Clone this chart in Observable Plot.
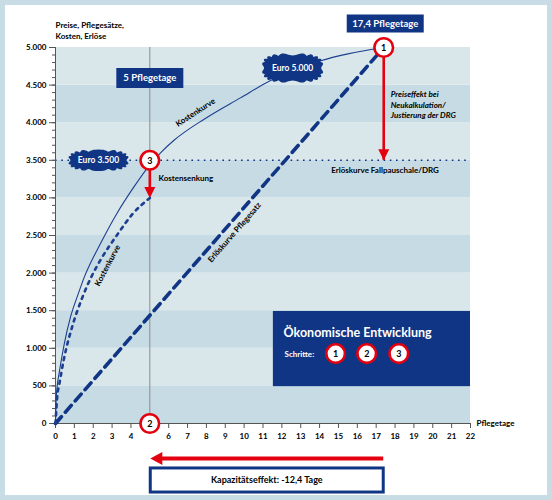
<!DOCTYPE html>
<html><head><meta charset="utf-8">
<script src="https://cdn.jsdelivr.net/npm/d3@7"></script>
<script src="https://cdn.jsdelivr.net/npm/@observablehq/plot@0.6"></script>
<style>
html,body{margin:0;padding:0;background:#fff;}
#chart svg{display:block;box-shadow:inset 0 0 0 5px #c8dce6;}
</style></head><body><div id="chart"></div>
<script>
// ---- data ----
const kostenTage  = [0, 0.03, 0.1, 0.2, 0.45, 0.8, 1.2, 1.5, 2.4, 3.27, 4.14, 5, 5.57, 6.3, 7.9, 9.8, 11.4, 12.6, 14, 15.5, 17.4];
const kostenWerte = [0, 300, 520, 680, 1040, 1420, 1720, 1930, 2400, 2800, 3140, 3440, 3600, 3770, 4050, 4330, 4560, 4700, 4820, 4915, 5000];
const senkungTage  = [0, 0.1, 0.2, 0.44, 0.9, 1.43, 1.9, 2.4, 3.3, 4.1, 5];
const senkungWerte = [0, 380, 520, 850, 1300, 1680, 1950, 2180, 2520, 2790, 3000];
const pflegesatzTage  = [0, 17.4];
const pflegesatzWerte = [0, 5000];
const drgPreis = 3500;
const tageVorher = 17.4, tageNachher = 5;
const kostenVorher = 5000, kostenNachher = 3000;
const yTicks = d3.range(0, 5001, 500);
const yMinor = d3.range(0, 5001, 100);
const xTicks = d3.range(0, 23);
const bandStarts = d3.range(0, 5000, 500);
const schritte = ["1", "2", "3"];

// ---- styles ----
const NAVY = "#103584", BLUE = "#1d3f8f", RED = "#e3000f";
const DARK = "#c6dbe4", LIGHT = "#d9e6ea";
const deNum = d => d3.format(",")(d).replace(/,/g, ".");

const kosten = kostenTage.map((x, i) => ({x, y: kostenWerte[i]}));
const senkung = senkungTage.map((x, i) => ({x, y: senkungWerte[i]}));
const pflegesatz = pflegesatzTage.map((x, i) => ({x, y: pflegesatzWerte[i]}));

const rectSym = (w, h) => ({draw(c) { c.rect(-w / 2, -h / 2, w, h); }});
const headDown = {draw(c) { c.moveTo(0, 0); c.lineTo(-5.5, -11); c.lineTo(5.5, -11); c.closePath(); }};
const headLeft = {draw(c) { c.moveTo(0, 0); c.lineTo(12, -6.5); c.lineTo(12, 6.5); c.closePath(); }};
function badge(w, h, n) {
  return {draw(c) {
    const a = w / 2 - 2, b = h / 2 - 2, N = 240;
    for (let i = 0; i <= N; i++) {
      const t = i / N * 2 * Math.PI, ct = Math.cos(t), st = Math.sin(t);
      const bump = 2.2 * Math.abs(Math.sin(n * t / 2));
      const x = a * Math.sign(ct) * Math.pow(Math.abs(ct), 0.6) + bump * ct;
      const y = b * Math.sign(st) * Math.pow(Math.abs(st), 0.6) + bump * st;
      if (i === 0) c.moveTo(x, y); else c.lineTo(x, y);
    }
    c.closePath();
  }};
}

const circleMarks = (data, x, y, r) => [
  Plot.dot(data, {x, y, r, fill: "white", stroke: RED, strokeWidth: 2.6}),
  Plot.text(data, {x, y, text: d => d, fontSize: 9, fill: "black", dy: 0.5})
];

const chart = Plot.plot({
  width: 552, height: 500,
  marginLeft: 55, marginRight: 82, marginTop: 47, marginBottom: 77,
  x: {domain: [0, 22]},
  y: {domain: [0, 5000]},
  style: {fontFamily: "Lato, 'Open Sans', sans-serif", fontWeight: "bold", fontSize: "8px", background: "white", color: "black"},
  marks: [
    // background bands
    Plot.rect(bandStarts, {x1: 0, x2: 22, y1: d => d, y2: d => d + 500, fill: d => (d / 500) % 2 === 0 ? DARK : LIGHT}),
    // vertical line at 5 days
    Plot.ruleX([tageNachher], {y1: 0, y2: 5000, stroke: "#8c8c8c", strokeWidth: 1}),
    // DRG revenue line
    Plot.ruleY([drgPreis], {x1: 0, x2: 22, stroke: NAVY, strokeWidth: 1.6, strokeDasharray: "1.6,4.6"}),
    // axes
    Plot.axisY({ticks: yMinor, tickSize: 3, tickFormat: () => "", label: null, stroke: "#555"}),
    Plot.axisY({ticks: yTicks, tickSize: 6, tickPadding: 3, tickFormat: deNum, label: null, stroke: "#555", fontSize: 8}),
    Plot.axisX({ticks: xTicks, tickSize: 5, tickPadding: 5, tickFormat: d => d === tageNachher ? "" : d, label: null, stroke: "#555", fontSize: 8}),
    Plot.ruleX([0], {y1: 0, y2: 5000, stroke: "#555"}),
    Plot.ruleY([0], {x1: 0, x2: 22, stroke: "#555"}),
    // curves
    Plot.line(pflegesatz, {x: "x", y: "y", stroke: NAVY, strokeWidth: 3.6, strokeDasharray: "9,6"}),
    Plot.line(senkung, {x: "x", y: "y", curve: "monotone-x", stroke: BLUE, strokeWidth: 2.6, strokeDasharray: "3,5"}),
    Plot.line(kosten, {x: "x", y: "y", curve: "monotone-x", stroke: BLUE, strokeWidth: 1.1}),
    // badges
    Plot.dot([{x: 2.28, y: drgPreis, t: "Euro 3.500"}], {x: "x", y: "y", symbol: badge(60, 21, 18), fill: NAVY, stroke: null}),
    Plot.text([{x: 2.28, y: drgPreis, t: "Euro 3.500"}], {x: "x", y: "y", text: "t", fill: "white", fontSize: 8.5}),
    Plot.dot([{x: 12.57, y: 4727, t: "Euro 5.000"}], {x: "x", y: "y", symbol: badge(61, 29, 20), fill: NAVY, stroke: null}),
    Plot.text([{x: 12.57, y: 4727, t: "Euro 5.000"}], {x: "x", y: "y", text: "t", fill: "white", fontSize: 8.5}),
    // day boxes
    Plot.dot([tageNachher], {x: d => d, y: kostenVorher, dy: 30.5, symbol: rectSym(67, 20), fill: NAVY, stroke: null}),
    Plot.text(["5 Pflegetage"], {x: tageNachher, y: kostenVorher, dy: 30.5, fill: "white", fontSize: 9.5}),
    Plot.dot([tageVorher], {x: d => d, y: kostenVorher, dx: 1.5, dy: -24, symbol: rectSym(77, 18), fill: NAVY, stroke: null}),
    Plot.text(["17,4 Pflegetage"], {x: tageVorher, y: kostenVorher, dx: 1.5, dy: -24, fill: "white", fontSize: 9.5}),
    // red arrows
    Plot.ruleX([tageVorher], {y1: kostenVorher, y2: drgPreis, stroke: RED, strokeWidth: 2.6}),
    Plot.dot([tageVorher], {x: d => d, y: drgPreis, symbol: headDown, fill: RED, stroke: null}),
    Plot.ruleX([tageNachher], {y1: drgPreis, y2: kostenNachher + 100, stroke: RED, strokeWidth: 2.6}),
    Plot.dot([tageNachher], {x: d => d, y: kostenNachher, symbol: headDown, fill: RED, stroke: null}),
    Plot.ruleY([0], {x1: tageVorher, x2: tageNachher + 0.4, dy: 35, stroke: RED, strokeWidth: 4}),
    Plot.dot([tageNachher], {x: d => d, y: 0, dx: 0.5, dy: 35, symbol: headLeft, fill: RED, stroke: null}),
    // capacity box
    Plot.rect([0], {x1: tageNachher + 0.05, x2: tageVorher, y1: -918, y2: -598, fill: "white", stroke: NAVY, strokeWidth: 3}),
    Plot.text(["Kapazitätseffekt: -12,4 Tage"], {x: (tageNachher + tageVorher) / 2, y: -758, fontSize: 9}),
    // legend box
    Plot.rect([0], {x1: 11.55, x2: 22, y1: 490, y2: 1490, fill: NAVY}),
    Plot.text(["Ökonomische Entwicklung"], {x: 12.09, y: 1197, textAnchor: "start", fill: "white", fontSize: 12.5}),
    Plot.text(["Schritte:"], {x: 12.14, y: 918, textAnchor: "start", fill: "white", fontSize: 8}),
    ...circleMarks(schritte, (d, i) => [14.85, 16.5, 18.2][i], 930, 9.3),
    // circles on chart
    ...circleMarks([schritte[0]], tageVorher, kostenVorher, 9.3),
    ...circleMarks([schritte[2]], tageNachher, drgPreis, 9.3),
    ...circleMarks([schritte[1]], tageNachher, 0, 9.3),
    // labels
    Plot.text(["Preise, Pflegesätze,\nKosten, Erlöse"], {frameAnchor: "top-left", textAnchor: "start", lineAnchor: "bottom", dy: -9, lineHeight: 1.35, fontSize: 8}),
    Plot.text(["Pflegetage"], {x: 22, y: 0, dx: 6, textAnchor: "start", fontSize: 8}),
    Plot.text(["Erlöskurve Fallpauschale/DRG"], {x: 17.47, y: drgPreis, dy: 10, fontSize: 8}),
    Plot.text(["Kostensenkung"], {x: 5.46, y: 3258, textAnchor: "start", fontSize: 8}),
    Plot.text(["Kostenkurve"], {x: 7.42, y: 4136, rotate: -33, fontSize: 8}),
    Plot.text(["Kostenkurve"], {x: 2.76, y: 2101, rotate: -62, fontSize: 8}),
    Plot.text(["Erlöskurve Pflegesatz"], {x: 9.49, y: 2540, rotate: -49, fontSize: 8}),
    Plot.text(["Preiseffekt bei\nNeukalkulation/\nJustierung der DRG"], {x: 17.77, y: 4242, textAnchor: "start", fontStyle: "italic", lineHeight: 1.3, fontSize: 8})
  ]
});
document.getElementById("chart").append(chart);
</script>
</body></html>
